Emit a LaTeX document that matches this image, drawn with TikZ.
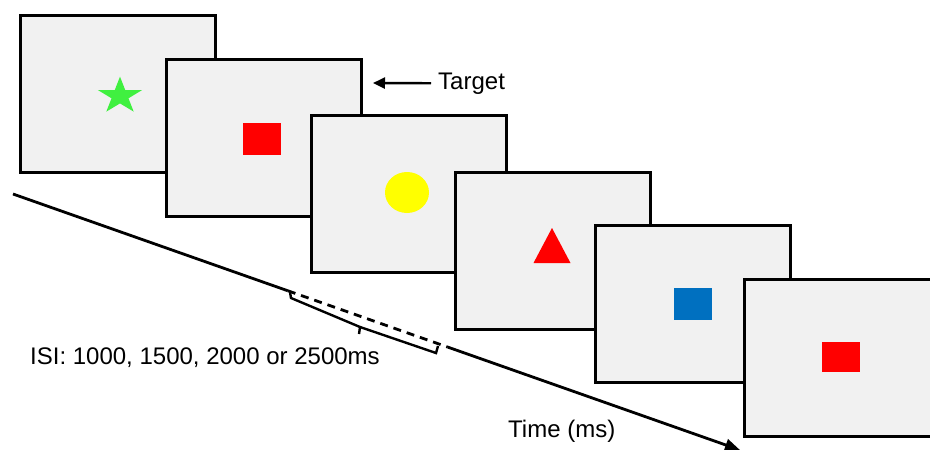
\documentclass[tikz,border=0pt]{standalone}
\usepackage{fontspec}
\setmainfont{Liberation Sans}
\usetikzlibrary{arrows.meta,calc,shapes.geometric}
\definecolor{screen}{HTML}{F1F1F1}
\definecolor{stargreen}{HTML}{40F040}
\definecolor{stimred}{HTML}{FF0000}
\definecolor{stimyellow}{HTML}{FFFF00}
\definecolor{stimblue}{HTML}{0070C0}
\begin{document}
\begin{tikzpicture}[x=1pt, y=-1pt,
  screenbox/.style={draw=black, line width=3pt, fill=screen, outer sep=0pt,
    minimum width=195pt, minimum height=157pt, inner sep=0, anchor=north west},
  stimrect/.style={minimum width=38pt, minimum height=32pt, inner sep=0},
  label/.style={inner sep=0, anchor=base west, font=\fontsize{24}{28}\selectfont},
  timeline/.style={line width=2.8pt},
  bracket/.style={line width=2.4pt, line join=miter}]
  \clip (0,0) rectangle (930,450);
  \fill[white] (0,0) rectangle (930,450);

  % successive stimulus screens
  \node[screenbox] (s1) at (20.5,15.5) {};
  \coordinate (starc) at (120,96);
  \begin{scope}[shift={(starc)}, x=23.3pt, y=19.35pt]
    \fill[stargreen] (90:1) -- (126:0.382) -- (162:1) -- (198:0.382) -- (234:1)
      -- (270:0.382) -- (306:1) -- (342:0.382) -- (18:1) -- (54:0.382) -- cycle;
  \end{scope}

  \node[screenbox] (s2) at (166.5,59.5) {};
  \node[stimrect, fill=stimred] (r1) at (262,139) {};

  \node[screenbox] (s3) at (311.5,115.5) {};
  \node[ellipse, fill=stimyellow, minimum width=44pt, minimum height=41pt, inner sep=0] (circ) at (407,192.5) {};

  \node[screenbox] (s4) at (455.5,172.5) {};
  \coordinate (tri1) at (552,228);
  \coordinate (tri2) at (570.5,263);
  \coordinate (tri3) at (533.5,263);
  \fill[stimred] (tri1) -- (tri2) -- (tri3) -- cycle;

  \node[screenbox] (s5) at (595.5,225.5) {};
  \node[stimrect, fill=stimblue] (r2) at (693,304) {};

  \node[screenbox] (s6) at (744.5,279.5) {};
  \node[stimrect, fill=stimred, minimum height=30pt] (r3) at (841,357) {};

  % target marker
  \node[label] (tgt) at (438,89) {Target};
  \coordinate (tgtip) at (373,83);
  \draw[line width=2.4pt, -{Triangle[length=12pt, width=11pt]}] ([xshift=-7pt]tgt.west) -- (tgtip);

  % time axis with the dashed inter-stimulus interval
  \coordinate (tl0) at (13,194);
  \coordinate (tl1) at (740,450);
  \coordinate (da) at ($(tl0)!0.378!(tl1)$);
  \coordinate (db) at ($(tl0)!0.598!(tl1)$);
  \draw[timeline] (tl0) -- (da);
  \draw[timeline, dash pattern=on 8pt off 6pt] (da) -- (db);
  \draw[timeline, -{Triangle[length=15pt, width=12pt]}] (db) -- (tl1);

  % bracket under the interval
  \coordinate (br0) at (290,292);
  \coordinate (br1) at (291,298);
  \coordinate (brm) at (360,327);
  \coordinate (br2) at (436,353);
  \coordinate (br3) at (438,346);
  \coordinate (brt) at (359,334);
  \draw[bracket] (br0) -- (br1) -- (brm) -- (br2) -- (br3);
  \draw[bracket] (brm) -- (brt);

  \node[label] (isi) at (30,364) {ISI: 1000, 1500, 2000 or 2500ms};
  \node[label] (time) at (508,437) {Time (ms)};
\end{tikzpicture}
\end{document}
